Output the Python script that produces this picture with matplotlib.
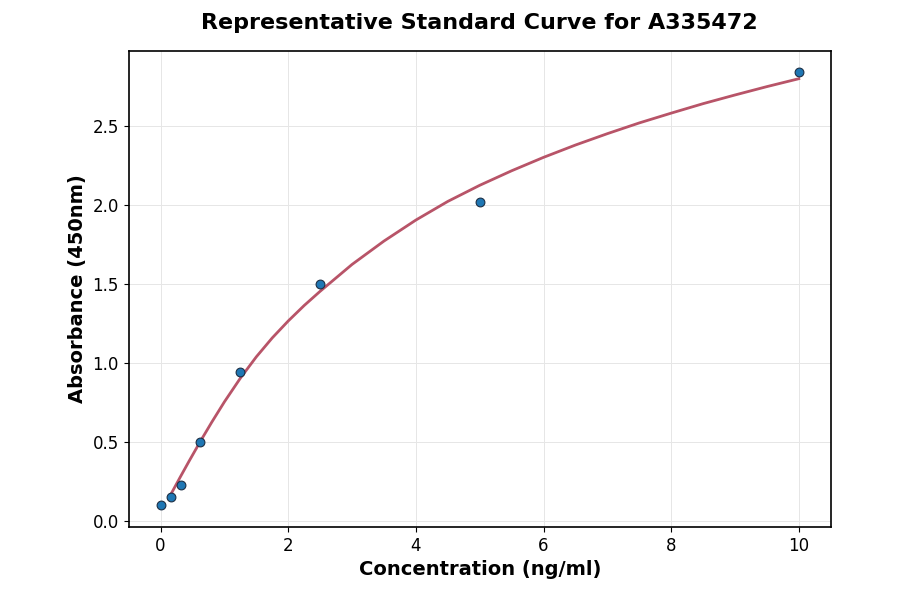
import matplotlib
matplotlib.use("Agg")
import matplotlib.pyplot as plt

# standard points
conc = [0, 0.156, 0.3125, 0.625, 1.25, 2.5, 5, 10]
absorb = [0.10, 0.15, 0.23, 0.50, 0.94, 1.50, 2.02, 2.84]

# fitted curve
fit_x = [0.156, 0.3125, 0.45, 0.625, 0.8, 1.0, 1.25, 1.5, 1.75, 2.0, 2.25, 2.5, 3.0, 3.5,
         4.0, 4.5, 5.0, 5.5, 6.0, 6.5, 7.0, 7.5, 8.0, 8.5, 9.0, 9.5, 10.0]
fit_y = [0.165, 0.281, 0.381, 0.505, 0.624, 0.754, 0.904, 1.039, 1.159, 1.266, 1.364, 1.454,
         1.624, 1.772, 1.905, 2.023, 2.125, 2.217, 2.302, 2.380, 2.452, 2.520, 2.582, 2.642,
         2.697, 2.750, 2.800]

fig = plt.figure(figsize=(9, 5.94), dpi=100)
ax = fig.add_axes([0.143, 0.113, 0.78, 0.801])

ax.plot(fit_x, fit_y, color="#b85468", linewidth=2, zorder=2)
ax.scatter(conc, absorb, s=40, color="#1f77b4", edgecolors="#1c2f45", linewidths=0.8, zorder=3)

ax.set_xlim(-0.5, 10.5)
ax.set_ylim(-0.038, 2.975)
ax.set_xticks([0, 2, 4, 6, 8, 10])
ax.set_yticks([0.0, 0.5, 1.0, 1.5, 2.0, 2.5])
ax.tick_params(labelsize=12)
ax.grid(True, color="#e6e6e6", linewidth=0.7)
ax.set_axisbelow(True)
for sp in ax.spines.values():
    sp.set_linewidth(1.2)

ax.set_xlabel("Concentration (ng/ml)", fontsize=14, fontweight="bold")
ax.set_ylabel("Absorbance (450nm)", fontsize=14, fontweight="bold")
ax.set_title("Representative Standard Curve for A335472", fontsize=16, fontweight="bold", pad=16)

fig.savefig("out.png", dpi=100)
